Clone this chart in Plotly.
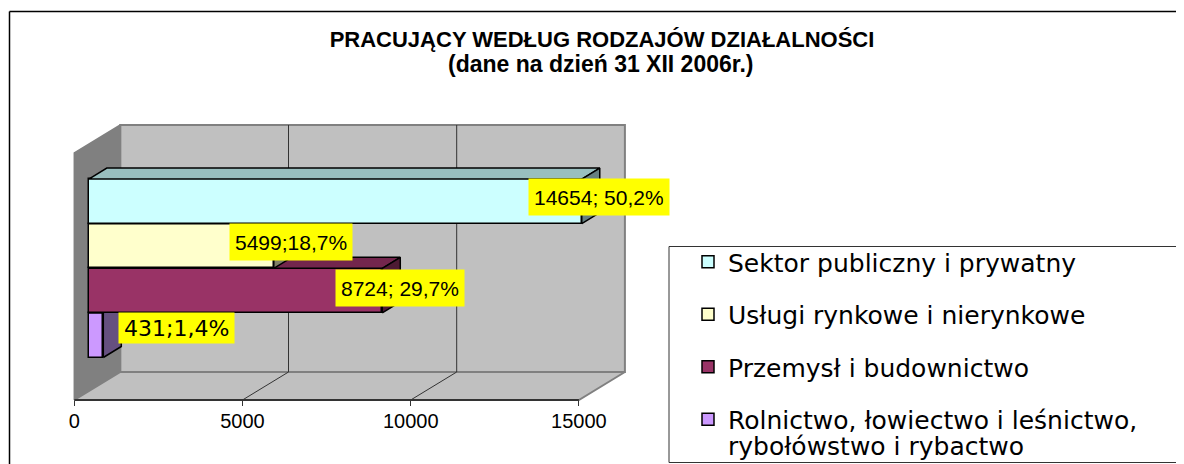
import plotly.graph_objects as go

# --- data (bottom to top of the stack) ---
categories = ["Rolnictwo, łowiectwo i leśnictwo,",
              "Przemysł i budownictwo",
              "Usługi rynkowe i nierynkowe",
              "Sektor publiczny i prywatny"]
category_second_line = "rybołówstwo i rybactwo"
values = [431, 8724, 5499, 14654]
labels = ["431;1,4%", "8724; 29,7%", "5499;18,7%", "14654; 50,2%"]
front_colors = ["#CC99FF", "#993366", "#FFFFCC", "#CCFFFF"]
top_colors = ["#9973BF", "#73264D", "#BFBF99", "#99BFBF"]
side_colors = ["#665080", "#4D1A33", "#808066", "#668080"]
label_fonts = ["DejaVu Sans", "Liberation Sans", "Liberation Sans", "Liberation Sans"]
label_sizes = [22, 21, 21, 21]
label_heights = [20, 26, 26, 26]
label_shift_px = [55, 0, -1, -1]
label_yshift_px = [7, 3, 4, 4]
tick_values = [0, 5000, 10000, 15000]
title_lines = ["PRACUJĄCY WEDŁUG RODZAJÓW DZIAŁALNOŚCI", "(dane na dzień 31 XII 2006r.)"]

# The page places the figure 8 px in from the top-left corner.
PAGE_OFFSET = 8
W, H = 1184 - PAGE_OFFSET, 464 - PAGE_OFFSET


def px_x(px):
    return (px - PAGE_OFFSET) / W


def px_y(px):
    return 1 - (px - PAGE_OFFSET) / H


PX_PER_UNIT = 168.2 / 5000
X0_PX = 74.3 - PAGE_OFFSET
Y0_REF = 335.2
Y0_PX = Y0_REF - PAGE_OFFSET
PX_PER_BAND = 44.6
x_range = [-X0_PX / PX_PER_UNIT, (W - X0_PX) / PX_PER_UNIT]
y_range = [(Y0_PX - H) / PX_PER_BAND, Y0_PX / PX_PER_BAND]

# 3-D pseudo-depth in axis units
WALL_DX, WALL_DY = 46 / PX_PER_UNIT, 28 / PX_PER_BAND
BAR_BASE = 14.5 / PX_PER_UNIT
BAR_DX, BAR_DY = 18 / PX_PER_UNIT, 11 / PX_PER_BAND
FLOOR, TOP = (Y0_REF - 400) / PX_PER_BAND, (Y0_REF - 153) / PX_PER_BAND
XMAX = tick_values[-1]

fig = go.Figure()


def face(xs, ys, fill, line="#000000", width=1.5, ax=("x", "y")):
    fig.add_trace(go.Scatter(x=xs, y=ys, mode="lines", fill="toself", fillcolor=fill,
                             line=dict(color=line, width=width), showlegend=False,
                             hoverinfo="skip", xaxis=ax[0], yaxis=ax[1]))


# walls and floor
face([WALL_DX, XMAX + WALL_DX, XMAX + WALL_DX, WALL_DX, WALL_DX],
     [FLOOR + WALL_DY, FLOOR + WALL_DY, TOP + WALL_DY, TOP + WALL_DY, FLOOR + WALL_DY],
     "#C0C0C0", "#808080", 2)
face([0, WALL_DX, WALL_DX, 0, 0],
     [FLOOR, FLOOR + WALL_DY, TOP + WALL_DY, TOP, FLOOR], "#808080", "#808080", 1.5)
face([0, XMAX, XMAX + WALL_DX, WALL_DX, 0],
     [FLOOR, FLOOR, FLOOR + WALL_DY, FLOOR + WALL_DY, FLOOR], "#C0C0C0", "#808080", 2)
for t in tick_values[1:-1]:
    fig.add_trace(go.Scatter(x=[t, t + WALL_DX, t + WALL_DX],
                             y=[FLOOR, FLOOR + WALL_DY, TOP + WALL_DY], mode="lines",
                             line=dict(color="#333333", width=1), showlegend=False, hoverinfo="skip"))
fig.add_trace(go.Scatter(x=[0, XMAX], y=[FLOOR, FLOOR], mode="lines",
                         line=dict(color="#333333", width=2), showlegend=False, hoverinfo="skip"))

# bars, bottom to top, each on its own overlaid axes to keep the stacking order
for i, (cat, v) in enumerate(zip(categories, values)):
    n = i + 2
    xa, ya = f"x{n}", f"y{n}"
    fig.add_trace(go.Bar(x=[v], y=[i], base=[BAR_BASE], width=1.0, orientation="h", name=cat,
                         marker=dict(color=front_colors[i], line=dict(color="#000000", width=1.5)),
                         legendgroup=cat, legendrank=100 - i, hoverinfo="skip", xaxis=xa, yaxis=ya))
    x1 = BAR_BASE + v
    face([BAR_BASE, x1, x1 + BAR_DX, BAR_BASE + BAR_DX, BAR_BASE],
         [i + .5, i + .5, i + .5 + BAR_DY, i + .5 + BAR_DY, i + .5], top_colors[i], ax=(xa, ya))
    face([x1, x1 + BAR_DX, x1 + BAR_DX, x1, x1],
         [i - .5, i - .5 + BAR_DY, i + .5 + BAR_DY, i + .5, i - .5], side_colors[i], ax=(xa, ya))
    fig.add_annotation(x=x1 + BAR_DX, y=i, xref="x", yref="y", text=labels[i], showarrow=False,
                       xshift=label_shift_px[i], yshift=label_yshift_px[i], bgcolor="#FFFF00",
                       borderpad=5, height=label_heights[i], valign="middle",
                       font=dict(family=label_fonts[i], size=label_sizes[i], color="#000000"))

fig.add_annotation(x=px_x(601), y=px_y(64), xref="paper", yref="paper", text=title_lines[1],
                   yanchor="middle", xanchor="center", showarrow=False,
                   font=dict(family="Liberation Sans", size=23, color="#000000", weight="bold"))
fig.add_annotation(x=px_x(726), y=px_y(446), xref="paper", yref="paper", text=category_second_line,
                   yanchor="middle", xanchor="left", showarrow=False,
                   font=dict(family="DejaVu Sans", size=25, color="#000000"))

axis_common = dict(showgrid=False, zeroline=False)
fig.update_layout(
    width=W, height=H, margin=dict(l=0, r=0, t=0, b=0, autoexpand=False), autosize=False,
    paper_bgcolor="#FFFFFF", plot_bgcolor="#FFFFFF", barmode="overlay", bargap=0,
    title=dict(text=title_lines[0], x=px_x(602), xanchor="center", y=px_y(39), yanchor="middle",
               font=dict(family="Liberation Sans", size=22, color="#000000", weight="bold")),
    xaxis=dict(range=x_range, tickvals=tick_values, ticktext=[str(t) for t in tick_values],
               ticks="outside", ticklen=5, tickcolor="#333333", showline=False, ticklabelstandoff=-2,
               anchor="free", position=px_y(400), tickfont=dict(family="Liberation Sans", size=20, color="#000000"),
               **axis_common),
    yaxis=dict(range=y_range, visible=False, **axis_common),
    legend=dict(x=px_x(688), xanchor="left", y=px_y(239), yanchor="top", bgcolor="rgba(0,0,0,0)",
                font=dict(family="DejaVu Sans", size=25, color="#000000"), tracegroupgap=17,
                itemclick=False, itemdoubleclick=False),
    shapes=[
        dict(type="line", xref="paper", yref="paper", x0=px_x(9.5), x1=px_x(9.5), y0=0, y1=px_y(11.5),
             line=dict(color="#000000", width=1.5)),
        dict(type="line", xref="paper", yref="paper", x0=px_x(9.5), x1=1, y0=px_y(11.5), y1=px_y(11.5),
             line=dict(color="#000000", width=1.5)),
        dict(type="rect", xref="paper", yref="paper", x0=px_x(669), x1=1.01, y0=px_y(462.5), y1=px_y(246.5),
             line=dict(color="#333333", width=1)),
    ],
)
for n in range(2, 6):
    fig.update_layout({
        f"xaxis{n}": dict(range=x_range, visible=False, overlaying="x", **axis_common),
        f"yaxis{n}": dict(range=y_range, visible=False, overlaying="y", **axis_common),
    })

fig.write_html("out.html", config={"displayModeBar": False})
